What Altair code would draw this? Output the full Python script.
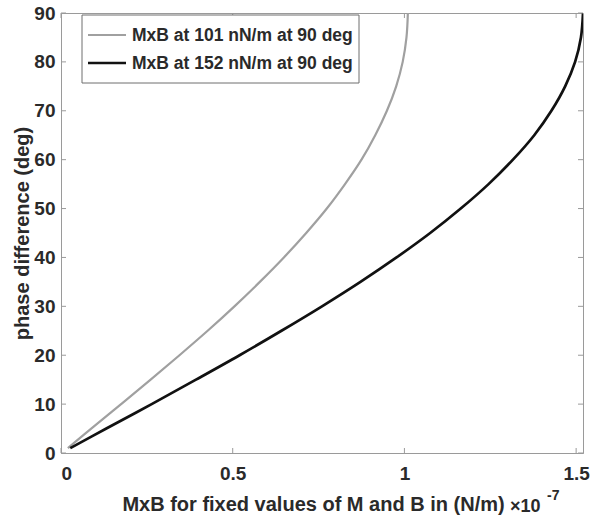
import altair as alt
import pandas as pd

# Phase difference (deg) and the MxB product (units of 1e-7 N/m) for two torque amplitudes
phase_deg = [1, 5, 10, 15, 20, 25, 30, 35, 40, 45, 50, 55, 60, 65, 70, 75, 80, 85, 90]
mxb_101 = [0.02, 0.088, 0.175, 0.261, 0.345, 0.427, 0.505, 0.579, 0.649, 0.714,
           0.774, 0.827, 0.875, 0.915, 0.949, 0.976, 0.995, 1.006, 1.01]
mxb_152 = [0.027, 0.132, 0.264, 0.393, 0.520, 0.642, 0.760, 0.872, 0.977, 1.075,
           1.164, 1.245, 1.316, 1.378, 1.428, 1.468, 1.497, 1.514, 1.52]

series_names = ["MxB at 101 nN/m at 90 deg", "MxB at 152 nN/m at 90 deg"]
series_colors = ["#a0a0a0", "#111111"]
series_widths = [2.2, 2.7]

x_ticks = [0, 0.5, 1, 1.5]
y_ticks = [0, 10, 20, 30, 40, 50, 60, 70, 80, 90]

W, H = 522, 440
FONT = "Liberation Sans"
AXIS_GREY = "#9a9a9a"
TEXT = "#2a2a2a"

rows = []
for name, vals in zip(series_names, [mxb_101, mxb_152]):
    for i, (p, v) in enumerate(zip(phase_deg, vals)):
        rows.append({"series": name, "order": i, "phase": p, "mxb": v})
df = pd.DataFrame(rows)

xs = alt.Scale(domain=[0, 1.52], nice=False, zero=False)
ys = alt.Scale(domain=[0, 90], nice=False)

x_axis = alt.Axis(values=x_ticks, ticks=False, grid=False, labelFont=FONT, labelFontWeight="bold",
                  labelFontSize=19, labelColor=TEXT, labelPadding=11,
                  labelExpr="datum.value == 0 ? '0' : format(datum.value, '~g')",
                  title="MxB for fixed values of M and B in (N/m)", titleFont=FONT,
                  titleFontWeight="bold", titleFontSize=20, titleColor=TEXT,
                  titleBaseline="alphabetic", titleX=252, titleY=57,
                  domainColor=AXIS_GREY)
y_axis = alt.Axis(values=y_ticks, ticks=False, grid=False, labelFont=FONT, labelFontWeight="bold",
                  labelFontSize=19, labelColor=TEXT, labelPadding=6,
                  title="phase difference (deg)", titleFont=FONT, titleFontWeight="bold",
                  titleFontSize=20, titleColor=TEXT, titleBaseline="alphabetic",
                  titleX=-33, titleY=H / 2, domainColor=AXIS_GREY)

lines = alt.Chart(df).mark_line(interpolate="catmull-rom", clip=True).encode(
    x=alt.X("mxb:Q", scale=xs, axis=x_axis),
    y=alt.Y("phase:Q", scale=ys, axis=y_axis),
    color=alt.Color("series:N", scale=alt.Scale(domain=series_names, range=series_colors), legend=None),
    strokeWidth=alt.StrokeWidth("series:N", scale=alt.Scale(domain=series_names, range=series_widths), legend=None),
    order="order:Q",
)

# inward tick marks on all four sides of the box
xt = pd.DataFrame({"v": x_ticks})
yt = pd.DataFrame({"v": y_ticks})
tick_style = dict(color=AXIS_GREY, strokeWidth=1)
bottom_ticks = alt.Chart(xt).mark_rule(**tick_style).encode(
    x=alt.X("v:Q", scale=xs, axis=x_axis), y=alt.value(H), y2=alt.value(H - 5))
top_ticks = alt.Chart(xt).mark_rule(**tick_style).encode(
    x=alt.X("v:Q", scale=xs, axis=x_axis), y=alt.value(0), y2=alt.value(5))
left_ticks = alt.Chart(yt).mark_rule(**tick_style).encode(
    y=alt.Y("v:Q", scale=ys, axis=y_axis), x=alt.value(0), x2=alt.value(5))
right_ticks = alt.Chart(yt).mark_rule(**tick_style).encode(
    y=alt.Y("v:Q", scale=ys, axis=y_axis), x=alt.value(W), x2=alt.value(W - 5))

# legend box in the upper-left corner
one = pd.DataFrame({"a": [0]})
legend_layers = [
    alt.Chart(one).mark_rect(fill="white", stroke="#6e6e6e", strokeWidth=1).encode(
        x=alt.value(21), x2=alt.value(298), y=alt.value(2), y2=alt.value(70))
]
for k, (name, col, sw) in enumerate(zip(series_names, series_colors, series_widths)):
    row_y = 22 + 28 * k
    legend_layers.append(
        alt.Chart(one).mark_rule(color=col, strokeWidth=sw).encode(
            x=alt.value(27), x2=alt.value(65), y=alt.value(row_y)))
    legend_layers.append(
        alt.Chart(pd.DataFrame({"t": [name]})).mark_text(
            align="left", baseline="middle", font=FONT, fontWeight="bold",
            fontSize=17.5, color=TEXT).encode(
            x=alt.value(71), y=alt.value(row_y + 1), text="t:N"))

# axis exponent beneath the right end of the x axis
exp_base = alt.Chart(pd.DataFrame({"t": ["\u00d710"]})).mark_text(
    align="left", baseline="alphabetic", font=FONT, fontSize=18, fontWeight="bold", color=TEXT).encode(
    x=alt.value(W - 73), y=alt.value(H + 59), text="t:N")
exp_pow = alt.Chart(pd.DataFrame({"t": ["-7"]})).mark_text(
    align="left", baseline="alphabetic", font=FONT, fontSize=14, fontWeight="bold", color=TEXT).encode(
    x=alt.value(W - 36), y=alt.value(H + 47), text="t:N")

chart = alt.layer(
    lines, bottom_ticks, top_ticks, left_ticks, right_ticks,
    *legend_layers, exp_base, exp_pow,
).properties(
    width=W, height=H,
    autosize=alt.AutoSizeParams(type="none"),
    padding={"left": 61, "top": 13, "right": 7, "bottom": 64},
    background="white",
).configure_view(stroke=AXIS_GREY, strokeWidth=1)

chart.save("out.html", embed_options={"renderer": "svg", "actions": False})
